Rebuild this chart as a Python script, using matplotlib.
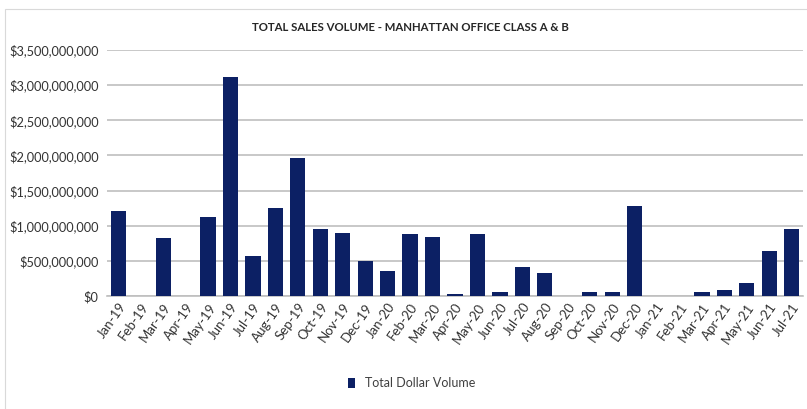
import matplotlib
matplotlib.use("Agg")
import matplotlib.pyplot as plt
from matplotlib.ticker import FuncFormatter
from matplotlib.patches import Rectangle

months = ["Jan-19","Feb-19","Mar-19","Apr-19","May-19","Jun-19","Jul-19","Aug-19","Sep-19",
          "Oct-19","Nov-19","Dec-19","Jan-20","Feb-20","Mar-20","Apr-20","May-20","Jun-20",
          "Jul-20","Aug-20","Sep-20","Oct-20","Nov-20","Dec-20","Jan-21","Feb-21","Mar-21",
          "Apr-21","May-21","Jun-21","Jul-21"]
volume = [1.21e9, 0, 0.82e9, 0, 1.13e9, 3.11e9, 0.57e9, 1.25e9, 1.96e9,
          0.96e9, 0.90e9, 0.50e9, 0.36e9, 0.88e9, 0.84e9, 0.025e9, 0.88e9, 0.06e9,
          0.41e9, 0.33e9, 0, 0.06e9, 0.06e9, 1.28e9, 0, 0, 0.06e9,
          0.08e9, 0.185e9, 0.64e9, 0.96e9]
yticks = [0, 5e8, 1e9, 1.5e9, 2e9, 2.5e9, 3e9, 3.5e9]

plt.rcParams['font.family'] = ['Lato', 'DejaVu Sans']
fig = plt.figure(figsize=(8.07, 4.09), dpi=100)
fig.patches.append(Rectangle((0.006, -0.01), 1.0, 0.988, transform=fig.transFigure,
                             fill=False, edgecolor='#d9d9d9', linewidth=0.8))
ax = fig.add_axes([0.1326, 0.2763, 0.8624, 0.6015])
x = list(range(len(months)))
ax.bar(x, volume, width=0.68, color='#0c2064', zorder=3, label='Total Dollar Volume')
ax.set_ylim(0, 3.5e9)
ax.set_xlim(-0.5, len(months) - 0.5)
ax.set_yticks(yticks)
ax.yaxis.set_major_formatter(FuncFormatter(lambda v, p: "${:,.0f}".format(v)))
ax.grid(axis='y', color='#bfbfbf', linewidth=1.2, zorder=0)
for s in ['top', 'right', 'left']:
    ax.spines[s].set_visible(False)
ax.spines['bottom'].set_color('#bfbfbf')
ax.spines['bottom'].set_linewidth(1.2)
ax.tick_params(axis='both', length=0, colors='#333333')
ax.tick_params(axis='y', pad=6, labelsize=9.2)
ax.set_xticks(x)
ax.set_xticklabels(months, rotation=55, ha='right', rotation_mode='anchor', fontsize=9.5)
fig.text(0.508, 0.932, "TOTAL SALES VOLUME - MANHATTAN OFFICE CLASS A & B",
         ha='center', va='center', fontsize=8.2, fontweight='bold', color='#262626')
fig.legend(loc='center', bbox_to_anchor=(0.51, 0.063), frameon=False, fontsize=9,
           handlelength=0.6, handleheight=0.9, labelcolor='#404040')
fig.savefig("out.png", dpi=100)
